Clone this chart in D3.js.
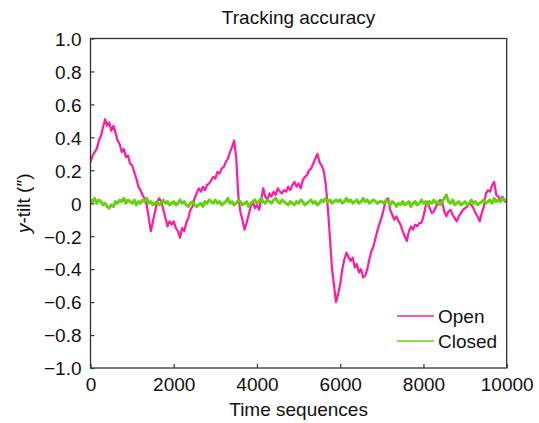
<!DOCTYPE html>
<html>
<head>
<meta charset="utf-8">
<script src="https://cdn.jsdelivr.net/npm/d3@7"></script>
<style>
html,body{margin:0;padding:0;background:#fff;}
svg{display:block;font-family:"Liberation Sans",Arial,sans-serif;}
</style>
</head>
<body>
<svg id="chart" width="539" height="423"></svg>
<script>
const title = "Tracking accuracy";
const xLabel = "Time sequences";
const seriesNames = ["Open", "Closed"];
const xTicks = [0, 2000, 4000, 6000, 8000, 10000];
const yTicks = [-1.0, -0.8, -0.6, -0.4, -0.2, 0, 0.2, 0.4, 0.6, 0.8, 1.0];
const sampleStep = 50;
const openValues = [
 0.25,0.29,0.31,0.33,0.38,0.41,0.46,0.51,0.47,0.49,0.44,0.47,0.43,0.38,0.36,0.31,0.33,0.28,0.29,0.24,
 0.23,0.19,0.15,0.10,0.08,0.05,0.03,-0.01,-0.09,-0.17,-0.11,-0.05,0.01,0.03,0.01,-0.04,-0.09,-0.14,-0.11,-0.13,
 -0.11,-0.15,-0.17,-0.21,-0.15,-0.17,-0.12,-0.09,-0.04,-0.02,0.03,0.06,0.09,0.07,0.10,0.08,0.11,0.12,0.14,0.16,
 0.15,0.19,0.18,0.21,0.22,0.25,0.27,0.31,0.34,0.38,0.28,0.05,-0.05,-0.10,-0.16,-0.12,-0.07,-0.02,0.01,-0.03,
 -0.01,-0.04,0.02,0.09,0.04,0.02,0.06,0.04,0.07,0.05,0.09,0.07,0.06,0.08,0.07,0.10,0.08,0.11,0.13,0.10,
 0.12,0.09,0.14,0.16,0.17,0.20,0.21,0.24,0.27,0.30,0.25,0.23,0.20,0.12,-0.02,-0.20,-0.39,-0.50,-0.60,-0.55,
 -0.49,-0.40,-0.34,-0.30,-0.33,-0.35,-0.33,-0.39,-0.37,-0.42,-0.40,-0.45,-0.44,-0.40,-0.34,-0.29,-0.26,-0.21,-0.16,-0.12,
 -0.08,-0.03,0.02,0.03,-0.04,-0.07,-0.10,-0.08,-0.11,-0.13,-0.17,-0.20,-0.23,-0.17,-0.14,-0.16,-0.13,-0.14,-0.12,-0.12,
 -0.08,-0.02,0.01,-0.03,-0.06,-0.05,-0.02,0.00,0.02,0.01,-0.05,-0.08,-0.05,-0.04,-0.07,-0.09,-0.11,-0.08,-0.06,-0.04,
 -0.03,-0.02,0.00,-0.01,-0.03,-0.06,-0.08,-0.11,-0.06,-0.02,0.06,0.08,0.07,0.11,0.13,0.05,0.04,0.02,0.04,0.01,
 0.01
];
const closedValues = [
 0.02,0.01,0.03,0.00,0.02,0.01,-0.01,0.00,-0.02,-0.03,-0.01,-0.02,0.01,0.00,0.02,0.01,0.03,0.00,0.02,0.01,
 0.00,0.02,-0.01,0.01,0.00,0.02,0.01,0.03,0.00,0.01,-0.01,0.00,0.01,-0.01,0.00,0.02,0.00,0.01,-0.01,0.00,
 0.01,-0.01,0.00,0.02,0.00,0.01,-0.01,-0.02,0.00,0.01,-0.01,-0.02,-0.01,0.00,-0.02,0.01,0.00,0.02,0.01,0.00,
 0.02,0.00,0.01,-0.01,0.00,0.01,0.03,0.00,0.01,-0.01,0.00,0.02,0.01,-0.01,0.00,0.01,-0.02,0.00,0.01,0.02,
 0.00,0.01,0.03,0.01,0.00,0.02,0.01,0.00,0.02,0.03,0.01,0.00,0.02,0.01,0.00,-0.01,0.01,0.00,-0.01,0.01,
 0.00,0.02,0.01,-0.01,0.00,0.01,0.02,0.00,0.01,-0.01,0.00,0.02,0.01,0.03,0.01,0.02,0.00,0.01,0.02,0.01,
 0.02,0.00,0.01,0.03,0.01,0.02,0.00,0.01,0.02,0.00,0.01,0.03,0.01,0.02,0.00,0.01,0.02,0.01,0.00,0.01,
 0.01,0.00,0.02,0.01,-0.01,0.01,0.00,-0.02,0.00,-0.01,0.01,-0.01,0.00,0.01,-0.02,0.00,0.01,-0.01,0.00,0.02,
 0.00,0.01,-0.01,0.01,0.00,0.02,0.00,0.01,-0.01,0.01,0.03,0.05,0.01,0.00,0.02,-0.01,0.00,0.01,-0.01,0.00,
 0.01,-0.01,0.00,0.02,0.00,0.01,-0.01,0.00,0.01,0.02,0.00,0.01,0.02,0.00,0.03,0.01,0.02,0.01,0.03,0.02,
 0.02
];
const colors = ["#ff1aa6", "#66d011"];

const svg = d3.select("#chart");
const m = {left: 90.5, top: 38.5, right: 506.7, bottom: 368};
const x = d3.scaleLinear().domain([0, 10000]).range([m.left, m.right]);
const y = d3.scaleLinear().domain([-1, 1]).range([m.bottom, m.top]);
const axisColor = "#333";
const fontSize = 19;

svg.append("clipPath").attr("id","clip").append("rect")
  .attr("x", m.left).attr("y", m.top).attr("width", m.right - m.left).attr("height", m.bottom - m.top);

const line = d3.line().x((d,i) => x(i * sampleStep)).y(d => y(d));
const gLines = svg.append("g").attr("clip-path","url(#clip)");
gLines.append("path").datum(openValues).attr("d", line)
  .attr("fill","none").attr("stroke", colors[0]).attr("stroke-width", 2.2).attr("stroke-linejoin","round");
gLines.append("path").datum(closedValues).attr("d", line)
  .attr("fill","none").attr("stroke", colors[1]).attr("stroke-width", 3).attr("stroke-linejoin","round");

svg.append("rect").attr("x", m.left).attr("y", m.top).attr("width", m.right - m.left).attr("height", m.bottom - m.top)
  .attr("fill","none").attr("stroke", axisColor).attr("stroke-width", 1.3);

const fmtY = d => d === 0 ? "0" : d3.format(".1f")(d).replace("-", "\u2212");
const yAxis = d3.axisLeft(y).tickValues(yTicks).tickFormat(fmtY).tickSizeInner(-4).tickSizeOuter(0).tickPadding(9);
const gy = svg.append("g").attr("transform", `translate(${m.left},0)`).call(yAxis);
const xAxis = d3.axisBottom(x).tickValues(xTicks).tickFormat(d3.format("d")).tickSizeInner(-4).tickSizeOuter(0).tickPadding(10);
const gx = svg.append("g").attr("transform", `translate(0,${m.bottom})`).call(xAxis);
[gx, gy].forEach(g => {
  g.select(".domain").remove();
  g.selectAll(".tick line").attr("stroke", axisColor).attr("stroke-width", 1.2);
  g.selectAll(".tick text").attr("fill", "#111").attr("font-size", fontSize).attr("font-family", "Liberation Sans, Arial, sans-serif");
});
gy.selectAll(".tick text").attr("dy", "0.36em");

svg.append("text").attr("x", (m.left + m.right) / 2).attr("y", 24).attr("text-anchor","middle")
  .attr("font-size", fontSize).attr("fill","#111").text(title);
svg.append("text").attr("x", (m.left + m.right) / 2).attr("y", 416).attr("text-anchor","middle")
  .attr("font-size", fontSize).attr("fill","#111").text(xLabel);
const yl = svg.append("text").attr("transform", `translate(30,${(m.top + m.bottom) / 2}) rotate(-90)`)
  .attr("text-anchor","middle").attr("font-size", fontSize).attr("fill","#111");
yl.append("tspan").attr("font-style","italic").text("y");
yl.append("tspan").text("-tilt (\u2033)");

const legend = svg.append("g");
seriesNames.forEach((name, i) => {
  const ly = 316 + i * 25;
  legend.append("line").attr("x1", 397).attr("x2", 434).attr("y1", ly).attr("y2", ly)
    .attr("stroke", colors[i]).attr("stroke-width", 1.5);
  legend.append("text").attr("x", 438).attr("y", ly).attr("dy", "0.35em")
    .attr("font-size", fontSize).attr("fill","#111").text(name);
});
</script>
</body>
</html>
